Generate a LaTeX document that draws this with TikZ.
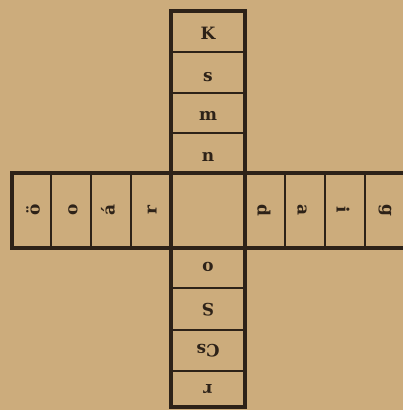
\documentclass[tikz,border=0pt]{standalone}
\usepackage{fontspec}
\newfontfamily\puzzlefont{DejaVu Serif}
\definecolor{paper}{RGB}{204,172,124}
\definecolor{ink}{RGB}{45,34,24}
\begin{document}
\begin{tikzpicture}[x=1pt,y=-1pt,
  frame/.style={line width=3.6pt, draw=ink},
  divider/.style={line width=2.4pt, draw=ink},
  letter/.style={font=\puzzlefont\fontsize{17}{17}\selectfont\bfseries, text=ink, inner sep=0pt}]
\fill[paper] (0,0) rectangle (403,410);
\useasboundingbox (0,0) rectangle (403,410);
% frame of the cross
\draw[frame] (171,9.2) -- (171,408);
\draw[frame] (245,9.2) -- (245,408);
\draw[frame] (10.2,173) -- (403,173);
\draw[frame] (10.2,248) -- (403,248);
\draw[frame] (169.2,11) -- (246.8,11);
\draw[frame] (12,171.2) -- (12,249.8);
\draw[frame] (169.2,407) -- (246.8,407);
% dividers, top arm
\foreach \y in {52,93,133} \draw[divider] (173,\y) -- (243,\y);
% dividers, bottom arm
\foreach \y in {288,330,371} \draw[divider] (173,\y) -- (243,\y);
% dividers, left arm
\foreach \x in {51,91,131} \draw[divider] (\x,175) -- (\x,246);
% dividers, right arm
\foreach \x in {285,325,365} \draw[divider] (\x,175) -- (\x,246);
% letters, top arm
\node[letter] (t1) at (208,33) {K};
\node[letter] (t2) at (208,77) {s};
\node[letter] (t3) at (208,116) {m};
\node[letter] (t4) at (208,157) {n};
% letters, left arm
\node[letter,rotate=90] (l1) at (33,210) {ö};
\node[letter,rotate=90] (l2) at (73,210) {o};
\node[letter,rotate=90] (l3) at (108,210) {á};
\node[letter,rotate=90] (l4) at (152,210) {r};
% letters, right arm
\node[letter,rotate=-90] (r1) at (264,210) {d};
\node[letter,rotate=-90] (r2) at (302,210) {a};
\node[letter,rotate=-90] (r3) at (343,210) {i};
\node[letter,rotate=-90] (r4) at (385,210) {g};
% letters, bottom arm
\node[letter,rotate=180] (b1) at (208,267) {o};
\node[letter,rotate=180] (b2) at (208,310) {S};
\node[letter,rotate=180] (b3) at (208,351) {Cs};
\node[letter,rotate=180] (b4) at (208,389) {r};
\end{tikzpicture}
\end{document}
